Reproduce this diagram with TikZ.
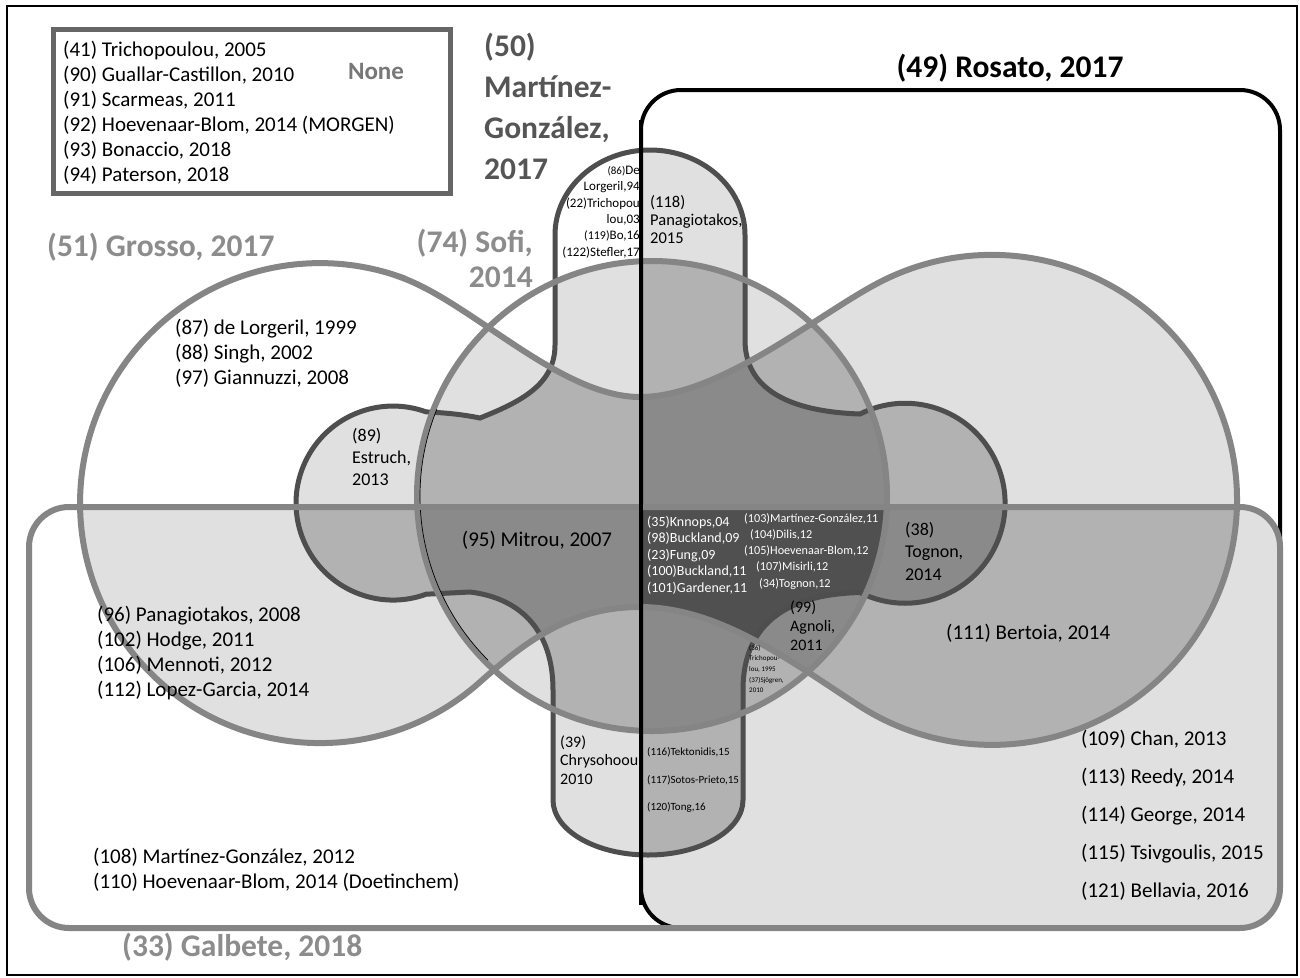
\documentclass[tikz,border=0pt]{standalone}
\usepackage{fontspec}
\setmainfont{Carlito}
\definecolor{fA}{HTML}{E0E0E0}
\definecolor{fB}{HTML}{B2B2B2}
\definecolor{fC}{HTML}{8A8A8A}
\definecolor{fD}{HTML}{505050}
\definecolor{lineG}{HTML}{858585}
\definecolor{lineM}{HTML}{4E4E4E}
\definecolor{ttlG}{HTML}{8C8C8C}
\definecolor{ttlM}{HTML}{555555}
\definecolor{ttlN}{HTML}{777777}
\definecolor{boxN}{HTML}{666666}
\newcommand\shR{[rounded corners=40pt] (641,90) rectangle (1280,928)}
\newcommand\shG{[rounded corners=40pt] (29,507) rectangle (1280,928)}
\newcommand\shS{(652,496) circle [radius=235]}
\newcommand\shD{(400,277) .. controls (471,302) and (560,397) .. (640,397) .. controls (720,397) and (818,314) .. (880,282) arc [start angle=242.8, end angle=482.6, radius=245] .. controls (793,663) and (720,607) .. (640,607) .. controls (570,607) and (525,642) .. (480,682) arc [start angle=48.2, end angle=289.5, radius=240] -- cycle}
\newcommand\shM{(555,235) arc [start angle=180, end angle=360, x radius=95, y radius=85] -- (745,340) .. controls (745,395) and (800,412) .. (860,414) arc [start angle=243.2, end angle=476.8, radius=100] .. controls (795,594) and (743,618) .. (743,690) -- (743,800) arc [start angle=0, end angle=180, x radius=95, y radius=55] -- (553,690) .. controls (553,630) and (520,598) .. (470,592) -- (426.2,594.2) arc [start angle=70, end angle=290, radius=97] .. controls (450,413) and (465,415) .. (480,418) .. controls (520,402) and (555,385) .. (555,345) -- cycle}
\newcommand\ifill[2]{\begin{scope}#2\fill[#1] (0,0) rectangle (1300,977);\end{scope}}
\begin{document}
\begin{tikzpicture}[x=1pt,y=-1pt,
  lbl/.style={inner sep=0pt, align=left, font=\fontsize{21}{25}\selectfont, text=black},
  ttl/.style={inner sep=0pt, font=\fontsize{31.5}{38}\selectfont\bfseries},
  wlbl/.style={inner sep=0pt, anchor=west, font=\fontsize{12.2}{16.5}\selectfont, text=white},
  gline/.style={draw=lineG, line width=6pt},
  mline/.style={draw=lineM, line width=5pt},
  rline/.style={draw=black, line width=4pt}]
\useasboundingbox (0,0) rectangle (1300,977);
\fill[white] (0,0) rectangle (1300,977);
\draw[black, line width=2pt] (7,6) rectangle (1297,975);
% None box
\draw[boxN, line width=5pt, fill=white] (53,29) rectangle (450,193);
% intersections: two sets
\ifill{fA}{\clip\shR;\clip\shG;}
\ifill{fA}{\clip\shR;\clip\shS;}
\ifill{fA}{\clip\shR;\clip\shM;}
\ifill{fA}{\clip\shR;\clip\shD;}
\ifill{fA}{\clip\shG;\clip\shS;}
\ifill{fA}{\clip\shG;\clip\shM;}
\ifill{fA}{\clip\shG;\clip\shD;}
\ifill{fA}{\clip\shS;\clip\shM;}
\ifill{fA}{\clip\shS;\clip\shD;}
\ifill{fA}{\clip\shM;\clip\shD;}
% three sets
\ifill{fB}{\clip\shR;\clip\shG;\clip\shS;}
\ifill{fB}{\clip\shR;\clip\shG;\clip\shM;}
\ifill{fB}{\clip\shR;\clip\shG;\clip\shD;}
\ifill{fB}{\clip\shR;\clip\shS;\clip\shM;}
\ifill{fB}{\clip\shR;\clip\shS;\clip\shD;}
\ifill{fB}{\clip\shR;\clip\shM;\clip\shD;}
\ifill{fB}{\clip\shG;\clip\shS;\clip\shM;}
\ifill{fB}{\clip\shG;\clip\shS;\clip\shD;}
\ifill{fB}{\clip\shG;\clip\shM;\clip\shD;}
\ifill{fB}{\clip\shS;\clip\shM;\clip\shD;}
% four sets
\ifill{fC}{\clip\shR;\clip\shG;\clip\shS;\clip\shM;}
\ifill{fC}{\clip\shR;\clip\shG;\clip\shS;\clip\shD;}
\ifill{fC}{\clip\shR;\clip\shG;\clip\shM;\clip\shD;}
\ifill{fC}{\clip\shR;\clip\shS;\clip\shM;\clip\shD;}
\ifill{fC}{\clip\shG;\clip\shS;\clip\shM;\clip\shD;}
% five sets
\ifill{fD}{\clip\shR;\clip\shG;\clip\shS;\clip\shM;\clip\shD;}
% outlines
\draw[mline] \shM;
\draw[gline] \shD;
\draw[gline] \shS;
\draw[black, line width=0.7pt] (652,496) ++(135:232) arc [start angle=135, end angle=202, radius=232];
\draw[rline] \shR;
\draw[gline] \shG;
\draw[rline] (641,120) -- (641,905);
% titles
\node[ttl, text=ttlN, font=\fontsize{25}{30}\selectfont\bfseries] (tnone) at (376,71) {None};
\node[ttl, text=ttlM, align=left, anchor=west, font=\fontsize{31.5}{41}\selectfont\bfseries] (tmg) at (484,106) {(50)\\Martínez-\\González,\\2017};
\node[ttl, text=ttlG, anchor=west] (tgr) at (47,247) {(51) Grosso, 2017};
\node[ttl, text=ttlG, align=right, anchor=east, font=\fontsize{31.5}{35}\selectfont\bfseries] (tsofi) at (533,258) {(74) Sofi,\\2014};
\node[ttl, text=black] (tros) at (1010,68) {(49) Rosato, 2017};
\node[ttl, text=ttlG, anchor=west] (tgal) at (122,947) {(33) Galbete, 2018};
% region texts
\node[lbl, anchor=west] (nonelist) at (63,112.5) {(41) Trichopoulou, 2005\\(90) Guallar-Castillon, 2010\\(91) Scarmeas, 2011\\(92) Hoevenaar-Blom, 2014 (MORGEN)\\(93) Bonaccio, 2018\\(94) Paterson, 2018};
\node[lbl, anchor=west] (grlist) at (175,353) {(87) de Lorgeril, 1999\\(88) Singh, 2002\\(97) Giannuzzi, 2008};
\node[lbl, anchor=west, font=\fontsize{18}{22}\selectfont] (estr) at (352,457) {(89)\\Estruch,\\2013};
\node[lbl] (mitrou) at (537,540) {(95) Mitrou, 2007};
\node[lbl, anchor=west] (pan08) at (97,653) {(96) Panagiotakos, 2008\\(102) Hodge, 2011\\(106) Mennoti, 2012\\(112) Lopez-Garcia, 2014};
\node[wlbl, align=left, font=\fontsize{14}{16.5}\selectfont] (cl) at (647,555) {(35)Knnops,04\\(98)Buckland,09\\(23)Fung,09\\(100)Buckland,11\\(101)Gardener,11};
\node[wlbl] (c103) at (744,519) {(103)Martínez-González,11};
\node[wlbl] (c104) at (750,535) {(104)Dilis,12};
\node[wlbl] (c105) at (744,551) {(105)Hoevenaar-Blom,12};
\node[wlbl] (c107) at (756,567) {(107)Misirli,12};
\node[wlbl] (c34) at (759,584) {(34)Tognon,12};
\node[lbl, anchor=west, font=\fontsize{18}{22.5}\selectfont] (tog) at (905,551) {(38)\\Tognon,\\2014};
\node[lbl, anchor=west, font=\fontsize{16}{19}\selectfont] (agn) at (790,626) {(99)\\Agnoli,\\2011};
\node[lbl, anchor=west, font=\fontsize{7}{10.7}\selectfont] (tri) at (749,669) {(36)\\Trichopou-\\lou, 1995\\(37)Sjögren,\\2010};
\node[lbl, anchor=west] (bert) at (946,633) {(111) Bertoia, 2014};
\node[lbl, anchor=west, font=\fontsize{16}{18.5}\selectfont] (chry) at (560,760) {(39)\\Chrysohoou\\2010};
\node[lbl, anchor=west, font=\fontsize{11}{27.5}\selectfont] (tek) at (647,780) {(116)Tektonidis,15\\(117)Sotos-Prieto,15\\(120)Tong,16};
\node[lbl, anchor=west] (galonly) at (93,870) {(108) Martínez-González, 2012\\(110) Hoevenaar-Blom, 2014 (Doetinchem)};
\node[lbl, anchor=west, font=\fontsize{21}{38}\selectfont] (rlist) at (1081,815) {(109) Chan, 2013\\(113) Reedy, 2014\\(114) George, 2014\\(115) Tsivgoulis, 2015\\(121) Bellavia, 2016};
\node[lbl, align=right, anchor=east, font=\fontsize{13}{16.4}\selectfont] (toparm) at (640,212) {{\fontsize{11}{12}\selectfont(86)}De\\Lorgeril,94\\(22)Trichopou\\lou,03\\{\fontsize{12}{12}\selectfont(119)}Bo,16\\(122)Stefler,17};
\node[lbl, anchor=west, font=\fontsize{16.5}{18}\selectfont] (p118) at (650,220) {(118)\\Panagiotakos,\\2015};
\end{tikzpicture}
\end{document}
